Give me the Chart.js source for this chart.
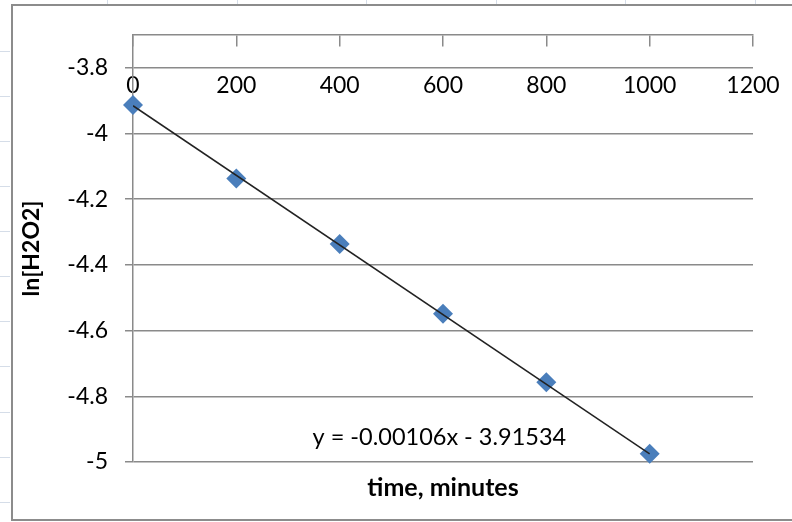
<!DOCTYPE html>
<html>
<head>
<meta charset="utf-8">
<script src="https://cdn.jsdelivr.net/npm/chart.js@4.4.1/dist/chart.umd.min.js"></script>
<style>
  html, body { margin: 0; padding: 0; background: #fff; }
  #wrap { width: 792px; height: 522px; }
</style>
</head>
<body>
<div id="wrap"><canvas id="chart" width="792" height="522"></canvas></div>
<script>
  // measured points, ln[H2O2] vs time
  const times = [0, 200, 400, 600, 800, 1000];
  const lnH2O2 = [-3.913, -4.137, -4.336, -4.549, -4.757, -4.975];

  // excel linear trendline, end points
  const trendX = [0, 1000];
  const trendY = [-3.91534, -4.97534];
  const equation = 'y = -0.00106x - 3.91534';
  const eqPos = [593, -4.926];

  const yTicks = [-5, -4.8, -4.6, -4.4, -4.2, -4, -3.8];
  const xTicks = [0, 200, 400, 600, 800, 1000, 1200];

  const gray = '#8a8a8a';
  const fontFam = 'Lato, "Open Sans", sans-serif';

  // sheet frame + cell lines around the chart object
  const sheetFrame = {
    id: 'sheetFrame',
    beforeDraw: (chart) => {
      const ctx = chart.ctx;
      ctx.save();
      ctx.fillStyle = '#fff';
      ctx.fillRect(0, 0, chart.width, chart.height);
      ctx.strokeStyle = '#d5dde8';
      ctx.lineWidth = 1;
      for (let x = 107; x < chart.width; x += 129.6) {
        ctx.beginPath();
        ctx.moveTo(Math.round(x) + 0.5, 0);
        ctx.lineTo(Math.round(x) + 0.5, 4);
        ctx.stroke();
      }
      for (let y = 50.7; y < chart.height; y += 45.1) {
        ctx.beginPath();
        ctx.moveTo(0, Math.round(y) + 0.5);
        ctx.lineTo(10, Math.round(y) + 0.5);
        ctx.stroke();
      }
      ctx.strokeStyle = '#8c8c8c';
      ctx.lineWidth = 2;
      ctx.strokeRect(12, 5, chart.width + 20, 515);
      ctx.restore();
    },
    afterDatasetsDraw: (chart) => {
      const ctx = chart.ctx;
      const sx = chart.scales.x, sy = chart.scales.y;
      ctx.save();
      ctx.fillStyle = '#000';
      ctx.font = '23.5px ' + fontFam;
      ctx.textAlign = 'center';
      ctx.textBaseline = 'middle';
      ctx.fillText(equation, sx.getPixelForValue(eqPos[0]), sy.getPixelForValue(eqPos[1]));
      ctx.restore();
    }
  };

  const chart = new Chart('chart', {
    type: 'scatter',
    data: {
      datasets: [
        {
          label: 'ln[H2O2]',
          data: times.map((t, k) => ({x: t, y: lnH2O2[k]})),
          pointStyle: 'rectRot',
          pointRadius: 10,
          pointHoverRadius: 10,
          backgroundColor: '#4a7ebb',
          borderColor: '#4a7ebb',
          borderWidth: 0,
          clip: false,
          order: 2
        },
        {
          type: 'line',
          label: 'trend',
          data: trendX.map((t, k) => ({x: t, y: trendY[k]})),
          borderColor: '#222',
          borderWidth: 1.5,
          pointRadius: 0,
          fill: false,
          order: 1
        }
      ]
    },
    options: {
      responsive: false,
      animation: false,
      layout: { padding: { left: 12, right: 39, top: 35, bottom: 12 } },
      plugins: {
        legend: { display: false },
        tooltip: { enabled: false },
        title: {
          display: true,
          position: 'bottom',
          fullSize: false,
          text: 'time, minutes',
          color: '#000',
          font: { family: fontFam, size: 25, weight: 'bold', lineHeight: 1.2 },
          padding: { top: 11, bottom: 7 }
        }
      },
      scales: {
        x: {
          type: 'linear',
          position: { y: -3.8 },
          min: 0,
          max: 1200,
          afterBuildTicks: (s) => { s.ticks = xTicks.map(v => ({value: v})); },
          ticks: {
            color: '#000',
            padding: 4,
            font: { family: fontFam, size: 23 },
            maxRotation: 0,
            callback: (v) => String(v)
          },
          grid: { drawOnChartArea: false, drawTicks: false },
          border: { display: false }
        },
        x2: {
          type: 'linear',
          axis: 'x',
          position: { y: -3.7 },
          min: 0,
          max: 1200,
          afterBuildTicks: (s) => { s.ticks = xTicks.map(v => ({value: v})); },
          ticks: { display: false },
          grid: { drawOnChartArea: false, drawTicks: true, tickLength: 11, color: gray, lineWidth: 1.5 },
          border: { color: gray, width: 1.5 }
        },
        y: {
          position: 'left',
          min: -5,
          max: -3.7,
          afterBuildTicks: (s) => { s.ticks = yTicks.map(v => ({value: v})); },
          afterFit: (s) => { s.width = 121; },
          ticks: {
            color: '#000',
            padding: 17,
            font: { family: fontFam, size: 23 },
            callback: (v) => String(Math.round(v * 10) / 10)
          },
          grid: { color: gray, lineWidth: 1.5, tickLength: 8 },
          border: { color: gray, width: 1.5 },
          title: {
            display: true,
            text: 'ln[H2O2]',
            color: '#000',
            font: { family: fontFam, size: 23, weight: 'bold' },
            padding: { top: 6, bottom: 0 }
          }
        }
      }
    },
    plugins: [sheetFrame]
  });
</script>
</body>
</html>
